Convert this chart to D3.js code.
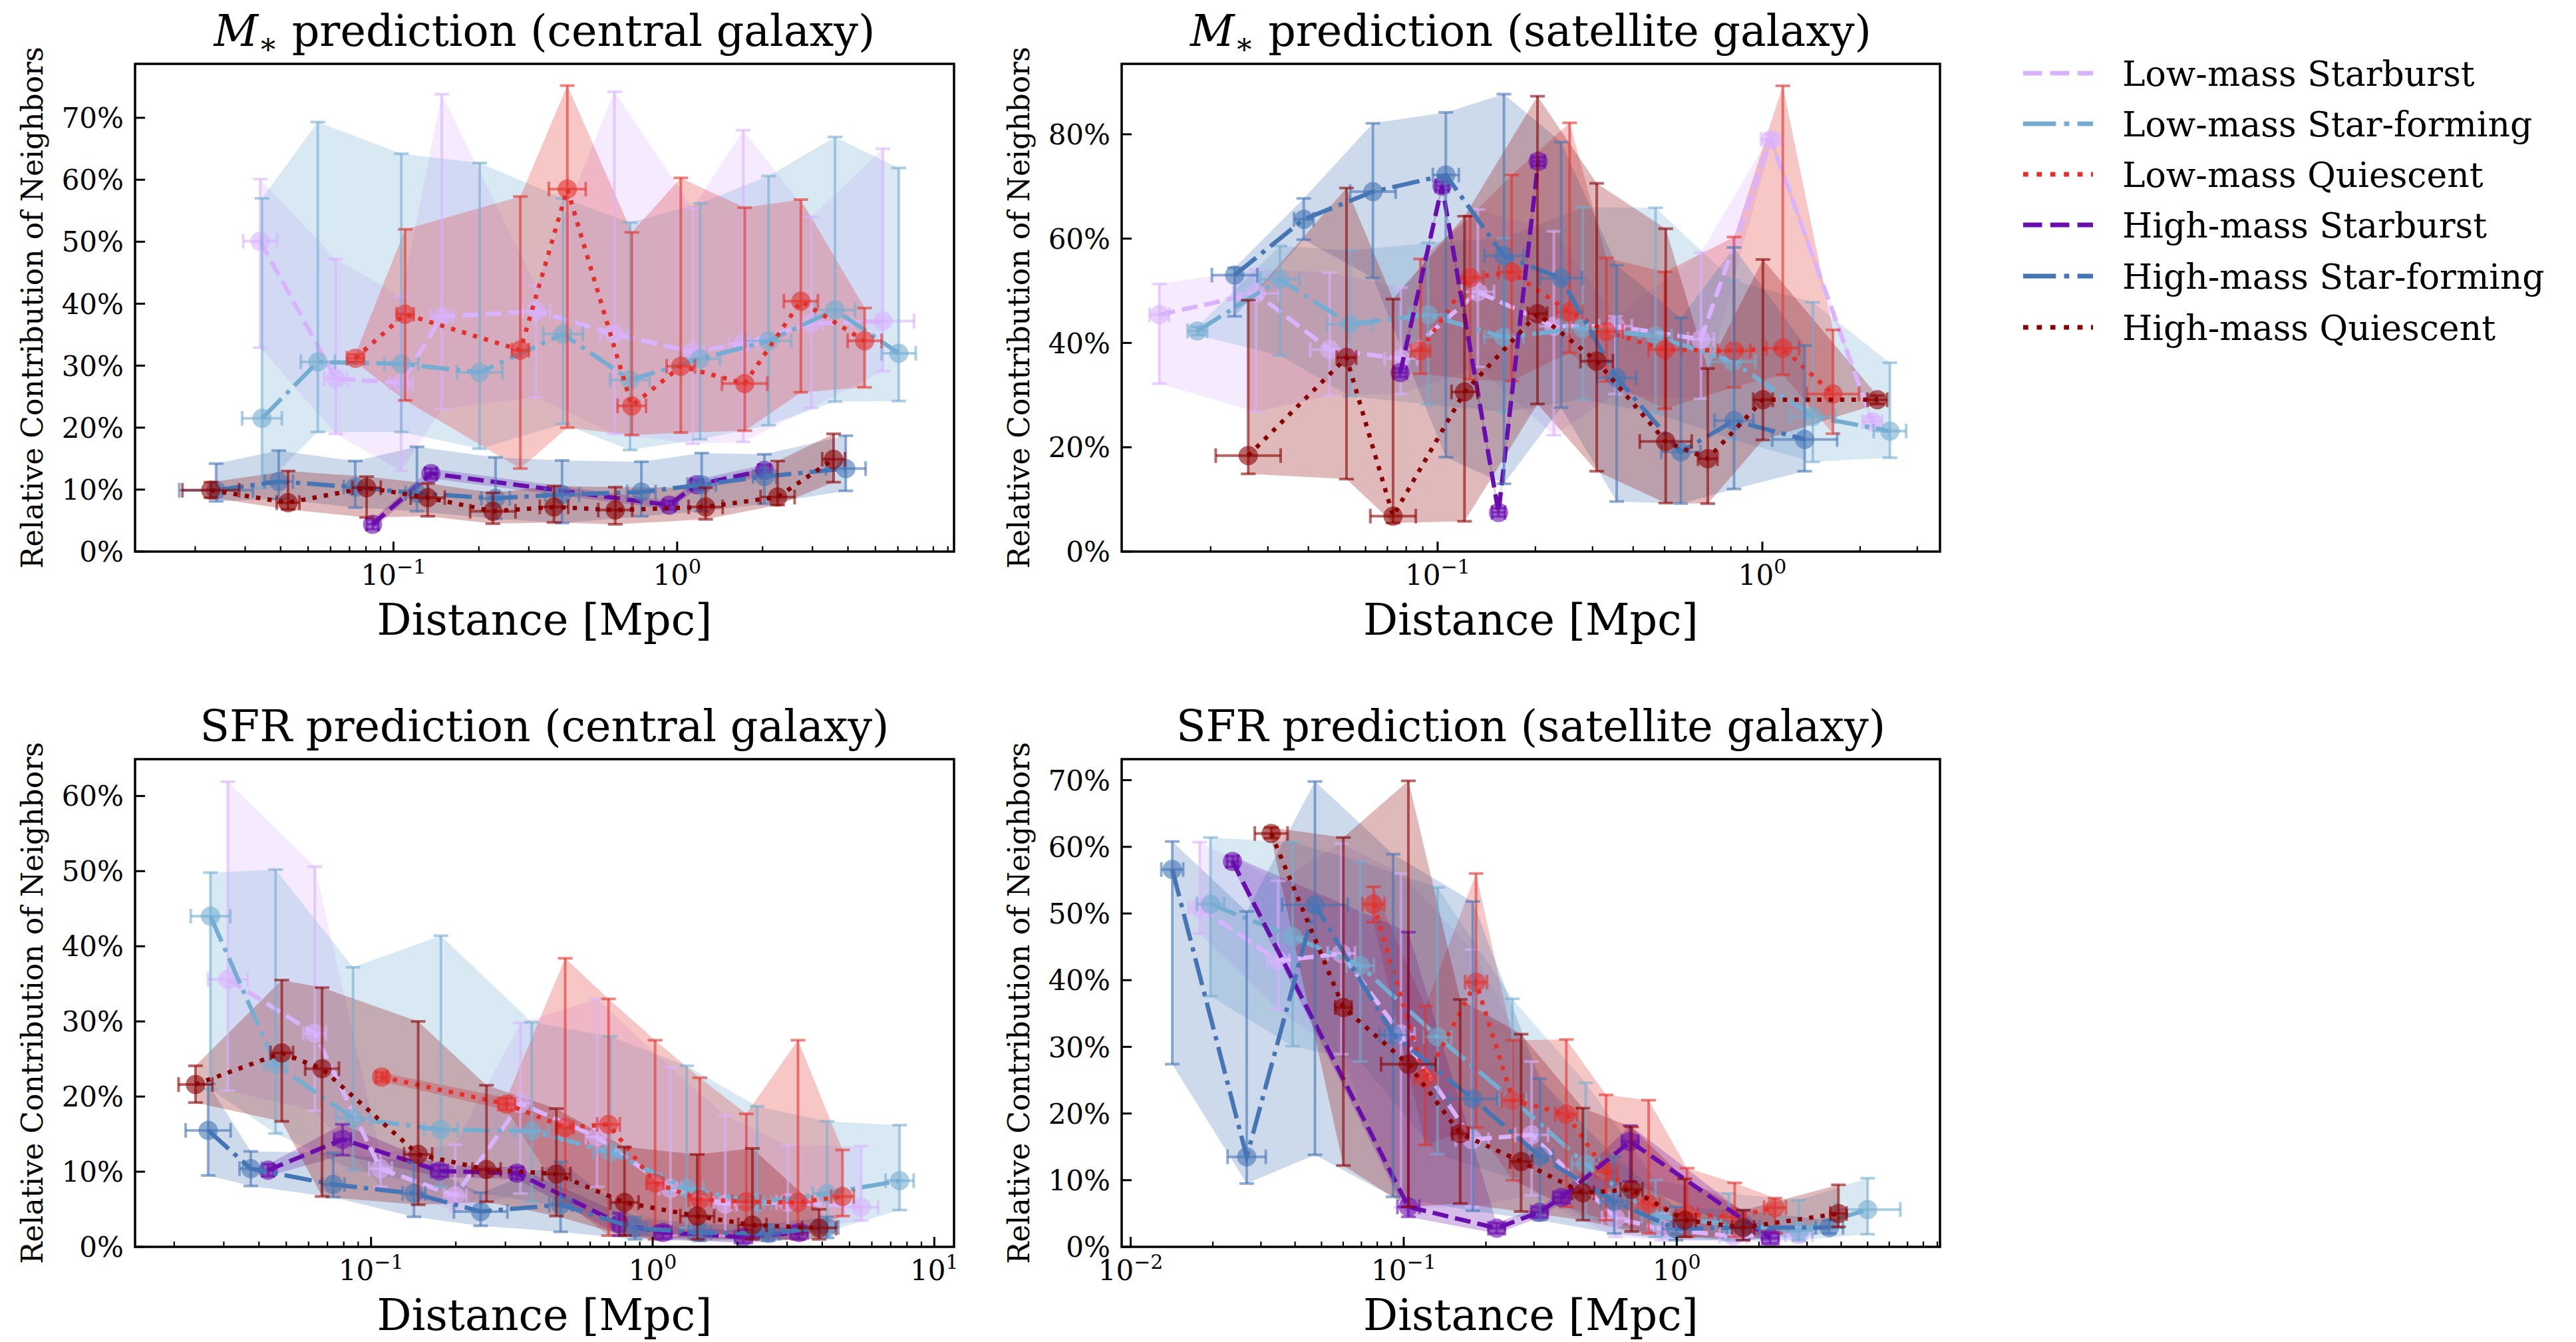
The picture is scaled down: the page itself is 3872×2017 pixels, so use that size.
<!DOCTYPE html>
<html>
<head>
<meta charset="utf-8">
<script src="https://cdn.jsdelivr.net/npm/d3@7"></script>
<style>
  html, body { margin: 0; padding: 0; background: #ffffff; }
  svg { display: block; font-family: "DejaVu Serif", "Liberation Serif", serif; }
</style>
</head>
<body>
<svg id="fig" width="3872" height="2017"></svg>
<script>
// ---------------------------------------------------------------
// Data: each row is [distance (Mpc), contribution (%), lower (%), upper (%), x half-width (dex)]
// ---------------------------------------------------------------
const seriesNames = ["Low-mass Starburst", "Low-mass Star-forming", "Low-mass Quiescent",
                     "High-mass Starburst", "High-mass Star-forming", "High-mass Quiescent"];

const panelTitles = ["M* prediction (central galaxy)", "M* prediction (satellite galaxy)",
                     "SFR prediction (central galaxy)", "SFR prediction (satellite galaxy)"];

// M* prediction, central galaxy
const mcLowSB = [[0.0339,50.1,32.9,60.1,0.06],[0.0626,27.9,19.0,47.2,0.04],[0.1064,27.2,13.0,41.2,0.04],[0.148,37.9,23.0,73.8,0.04],[0.318,38.8,24.9,42.9,0.05],[0.601,35.1,19.0,74.2,0.05],[1.135,32.2,17.4,55.4,0.04],[1.71,33.6,17.7,68.0,0.05],[2.97,36.8,23.2,54.0,0.04],[5.31,37.2,29.1,65.0,0.11]];
const mcLowSF = [[0.0344,21.5,10.3,57.0,0.07],[0.0541,30.6,19.3,69.3,0.06],[0.1066,30.3,19.3,64.2,0.06],[0.2013,28.9,16.6,62.7,0.08],[0.396,35.1,20.6,57.0,0.07],[0.682,27.7,16.4,53.1,0.07],[1.205,31.1,18.1,56.2,0.07],[2.10,34.0,20.4,60.6,0.08],[3.60,39.0,24.2,66.9,0.07],[6.04,32.0,24.3,61.9,0.06]];
const mcLowQ  = [[0.0734,31.2,30.6,31.8,0.03],[0.1099,38.3,24.4,52.0,0.03],[0.280,32.5,13.4,57.3,0.03],[0.410,58.5,20.0,75.2,0.065],[0.692,23.5,18.8,51.5,0.05],[1.03,29.9,19.2,60.3,0.05],[1.73,27.1,19.5,55.5,0.08],[2.73,40.4,25.7,56.8,0.06],[4.58,34.0,26.5,39.3,0.06]];
const mcHighSB = [[0.0844,4.4,3.6,5.2,0.02],[0.1355,12.6,11.8,13.4,0.02],[0.938,7.5,6.8,8.2,0.02],[1.17,10.8,10.0,11.6,0.02],[2.03,13.1,12.2,14.0,0.02]];
const mcHighSF = [[0.0237,9.9,8.1,14.2,0.13],[0.0394,11.3,8.5,16.3,0.05],[0.0733,10.4,7.1,14.6,0.04],[0.121,9.4,6.5,16.9,0.04],[0.229,8.6,5.3,15.2,0.05],[0.393,9.2,4.6,14.7,0.06],[0.748,9.6,5.7,14.5,0.05],[1.22,10.8,6.5,15.9,0.05],[2.03,12.1,7.7,15.7,0.04],[3.93,13.4,9.8,18.7,0.07]];
const mcHighQ  = [[0.0227,9.9,8.7,11.2,0.10],[0.0425,7.9,6.8,13.0,0.04],[0.0804,10.3,5.5,12.1,0.05],[0.132,8.7,5.7,11.0,0.06],[0.224,6.5,4.5,9.5,0.08],[0.368,7.2,4.7,10.6,0.05],[0.605,6.7,4.4,10.4,0.06],[1.26,7.2,5.2,10.3,0.06],[2.26,8.8,7.5,14.6,0.06],[3.56,14.9,11.2,19.0,0.04]];

// M* prediction, satellite galaxy
const msLowSB = [[0.0139,45.4,32.2,51.3,0.03],[0.0276,49.5,26.8,54.1,0.07],[0.0465,38.7,29.9,53.5,0.06],[0.0770,37.0,30.2,50.6,0.05],[0.133,49.8,35.4,65.6,0.05],[0.228,43.2,22.3,61.4,0.05],[0.353,43.2,30.2,45.1,0.05],[0.647,40.7,29.3,57.3,0.04],[1.062,79.0,78.0,80.0,0.03],[2.18,24.9,24.0,25.8,0.03]];
const msLowSF = [[0.0182,42.3,41.5,43.1,0.03],[0.0327,52.2,37.6,58.6,0.06],[0.0537,43.6,29.8,57.7,0.07],[0.0935,45.4,28.2,59.2,0.06],[0.160,41.1,26.8,60.1,0.06],[0.280,42.8,29.1,66.0,0.05],[0.469,41.3,26.5,65.9,0.05],[0.811,36.4,21.5,52.0,0.07],[1.43,25.9,17.2,47.8,0.07],[2.47,23.1,18.0,36.2,0.05]];
const msLowQ  = [[0.0885,38.5,34.1,56.1,0.03],[0.126,52.5,33.0,64.3,0.04],[0.169,53.6,32.7,72.2,0.04],[0.255,45.9,38.1,82.2,0.04],[0.331,42.2,32.6,56.3,0.05],[0.501,38.7,27.4,53.6,0.05],[0.818,38.5,31.5,60.3,0.05],[1.156,39.0,33.9,89.3,0.05],[1.65,30.2,22.6,42.5,0.08]];
const msHighSB = [[0.0767,34.3,33.5,35.1,0.02],[0.1032,70.1,69.3,70.9,0.02],[0.154,7.5,6.7,8.3,0.02],[0.204,74.8,74.0,75.6,0.02]];
const msHighSF = [[0.0237,53.0,45.1,54.4,0.07],[0.0387,63.7,59.8,67.7,0.03],[0.0632,69.0,52.5,82.1,0.07],[0.106,72.2,18.1,84.2,0.04],[0.160,56.7,13.0,87.7,0.06],[0.240,52.4,27.6,78.5,0.065],[0.356,33.3,9.6,54.9,0.06],[0.561,19.1,9.2,44.8,0.06],[0.818,25.1,12.0,58.3,0.06],[1.35,21.5,15.4,39.5,0.10]];
const msHighQ  = [[0.0261,18.4,14.9,48.2,0.10],[0.0524,37.2,13.9,69.7,0.03],[0.0729,6.8,5.5,48.4,0.07],[0.121,30.6,5.8,64.3,0.04],[0.203,45.6,28.3,87.3,0.03],[0.309,36.5,15.4,70.6,0.05],[0.504,21.1,9.3,61.9,0.08],[0.679,17.8,9.2,35.1,0.03],[1.004,29.1,21.4,56.0,0.03],[2.26,29.1,28.3,29.9,0.03]];

// SFR prediction, central galaxy
const scLowSB = [[0.0310,35.6,20.8,61.9,0.07],[0.0631,28.4,18.1,50.6,0.04],[0.108,10.4,8.0,12.5,0.04],[0.199,6.8,4.8,13.6,0.04],[0.339,19.1,7.1,29.8,0.04],[0.635,14.6,8.0,33.0,0.04],[1.156,7.8,1.5,23.9,0.04],[1.81,5.7,1.5,17.5,0.04],[3.02,5.9,2.0,13.5,0.04],[5.50,5.3,3.5,13.4,0.06]];
const scLowSF = [[0.0269,44.0,21.0,49.8,0.07],[0.0458,24.3,15.1,50.2,0.04],[0.0863,17.1,10.2,37.2,0.06],[0.177,15.6,8.0,41.4,0.06],[0.372,15.4,6.0,29.9,0.06],[0.707,12.6,4.0,28.0,0.06],[1.32,7.8,2.5,24.1,0.06],[2.35,5.9,1.5,18.7,0.05],[4.16,7.1,2.0,16.7,0.05],[7.53,8.8,4.9,16.2,0.05]];
const scLowQ  = [[0.109,22.6,22.0,23.2,0.02],[0.303,19.0,18.2,19.8,0.03],[0.489,15.9,6.0,38.4,0.03],[0.697,16.3,1.5,33.0,0.04],[1.02,8.5,1.0,27.5,0.03],[1.47,6.3,1.5,22.5,0.04],[2.15,6.0,1.0,17.7,0.05],[3.28,5.9,1.0,27.5,0.05],[4.72,6.7,4.1,12.9,0.04]];
const scHighSB = [[0.0431,10.2,9.4,11.0,0.02],[0.0792,14.3,12.2,16.3,0.03],[0.175,10.1,9.3,10.9,0.03],[0.330,9.8,9.0,10.6,0.02],[0.762,3.1,1.5,4.5,0.02],[1.087,1.9,1.0,2.8,0.03],[2.10,1.3,0.5,2.1,0.03],[3.31,1.9,1.0,2.8,0.03]];
const scHighSF = [[0.0264,15.5,9.5,21.7,0.08],[0.0374,10.4,8.1,12.7,0.04],[0.0734,8.3,6.6,12.5,0.04],[0.142,7.1,4.0,11.3,0.04],[0.245,4.7,2.8,7.2,0.095],[0.471,5.6,2.0,11.3,0.04],[0.865,2.5,1.0,4.0,0.04],[1.47,1.9,0.8,3.0,0.04],[2.57,1.8,0.8,3.0,0.04],[4.16,2.6,1.2,4.0,0.04]];
const scHighQ  = [[0.0238,21.6,19.2,24.1,0.06],[0.0482,25.8,16.7,35.5,0.04],[0.0670,23.7,6.7,34.5,0.06],[0.147,12.3,5.6,30.0,0.05],[0.257,10.3,6.0,21.5,0.05],[0.455,9.7,4.1,18.4,0.05],[0.794,5.9,1.5,13.3,0.05],[1.44,4.1,1.0,12.3,0.06],[2.26,2.9,1.0,13.1,0.05],[3.90,2.5,1.0,5.0,0.06]];

// SFR prediction, satellite galaxy
const ssLowSB = [[0.0179,50.9,47.0,60.7,0.04],[0.0347,42.9,35.6,54.9,0.04],[0.0591,44.0,28.9,60.5,0.05],[0.0977,31.9,5.9,56.0,0.05],[0.178,16.1,6.0,44.6,0.06],[0.294,16.8,7.7,27.8,0.06],[0.597,4.3,1.5,8.0,0.05],[0.883,2.7,1.0,5.0,0.05],[1.61,1.6,0.8,3.0,0.05],[2.80,1.8,0.8,3.0,0.05]];
const ssLowSF = [[0.0196,51.4,37.6,61.4,0.05],[0.0392,46.5,30.1,60.7,0.05],[0.0693,42.2,27.8,57.8,0.05],[0.133,31.5,13.9,53.9,0.05],[0.250,22.1,10.2,37.2,0.05],[0.464,12.4,4.3,24.6,0.05],[0.836,4.6,1.5,10.0,0.05],[1.55,3.4,1.0,8.0,0.05],[2.80,2.4,1.0,7.0,0.05],[5.00,5.6,1.9,10.3,0.12]];
const ssLowQ  = [[0.0775,51.4,48.7,54.0,0.04],[0.120,25.3,15.3,36.1,0.04],[0.184,39.7,17.9,56.0,0.04],[0.251,22.0,10.0,31.0,0.04],[0.394,19.9,6.0,31.1,0.04],[0.551,11.3,4.0,22.8,0.04],[0.789,6.4,2.0,22.0,0.04],[1.09,4.9,1.5,11.8,0.04],[1.63,4.5,1.5,9.6,0.04],[2.29,5.9,2.0,7.3,0.04]];
const ssHighSB = [[0.0236,57.8,57.0,58.6,0.02],[0.104,6.0,4.5,47.2,0.04],[0.219,2.8,2.0,3.6,0.03],[0.314,5.2,4.4,6.0,0.03],[0.378,7.4,6.6,8.2,0.03],[0.675,15.8,9.8,18.2,0.03],[2.20,1.3,0.5,2.1,0.03]];
const ssHighSF = [[0.0142,56.6,27.4,60.8,0.04],[0.0266,13.5,9.5,50.3,0.07],[0.0473,51.3,13.8,69.8,0.12],[0.0914,31.8,7.5,58.9,0.05],[0.179,22.2,5.4,51.8,0.09],[0.315,13.6,4.0,25.2,0.05],[0.590,6.8,2.0,13.5,0.05],[0.993,2.7,1.0,6.0,0.05],[1.75,2.9,1.0,5.5,0.06],[3.62,2.9,2.0,4.0,0.05]];
const ssHighQ  = [[0.0327,62.0,61.3,62.9,0.06],[0.0601,35.9,12.2,61.4,0.03],[0.104,27.4,6.0,69.9,0.10],[0.161,17.0,6.5,37.1,0.03],[0.269,12.8,5.3,31.9,0.04],[0.453,8.1,4.0,20.8,0.04],[0.683,8.6,2.3,18.0,0.04],[1.07,4.0,1.5,10.2,0.04],[1.75,2.9,1.0,5.5,0.04],[3.91,5.0,3.0,9.3,0.03]];

// Axis limits (x in log10 Mpc, y in %) and tick values
const xLimitsLog = [[-1.911, 0.976], [-1.973, 0.547], [-1.838, 1.070], [-2.033, 0.964]];
const yLimits    = [[0, 78.7], [0, 93.5], [0, 64.9], [0, 73.15]];
const yTicks     = [[0,10,20,30,40,50,60,70], [0,20,40,60,80], [0,10,20,30,40,50,60], [0,10,20,30,40,50,60,70]];
const xTickExps  = [[-1, 0], [-1, 0], [-1, 0, 1], [-2, -1, 0]];
const xLabel = "Distance [Mpc]";
const yLabel = "Relative Contribution of Neighbors";

// ---------------------------------------------------------------
// Styling
// ---------------------------------------------------------------
const colors = ["#d9b3ff", "#74add1", "#e3302b", "#6a0dad", "#4575b4", "#8b0000"];
const LW = 6.5;
const dashFor = {
  dashed:  [3.7, 1.6],
  dashdot: [6.4, 1.6, 1.0, 1.6],
  dotted:  [1.0, 1.65]
};
const styleKeys = ["dashed", "dashdot", "dotted", "dashed", "dashdot", "dotted"];
const dashArray = (key, lw) => dashFor[key].map(v => (v * lw).toFixed(2)).join(" ");

const panelSeries = [
  [mcLowSB, mcLowSF, mcLowQ, mcHighSB, mcHighSF, mcHighQ],
  [msLowSB, msLowSF, msLowQ, msHighSB, msHighSF, msHighQ],
  [scLowSB, scLowSF, scLowQ, scHighSB, scHighSF, scHighQ],
  [ssLowSB, ssLowSF, ssLowQ, ssHighSB, ssHighSF, ssHighQ]
];

// axes boxes [left, top, width, height] in px
const boxes = [[203, 96, 1231, 733], [1686, 96, 1230, 733], [203, 1141, 1231, 733], [1686, 1141, 1230, 733]];

const svg = d3.select("#fig");
svg.append("rect").attr("width", 3872).attr("height", 2017).attr("fill", "#ffffff");

const FONT_TICK = 42, FONT_TITLE = 65, FONT_XLAB = 65, FONT_YLAB = 44, FONT_LEG = 52;

boxes.forEach((b, pi) => {
  const [bx, by, bw, bh] = b;
  const x = d3.scaleLog()
    .domain([Math.pow(10, xLimitsLog[pi][0]), Math.pow(10, xLimitsLog[pi][1])])
    .range([bx, bx + bw]);
  const y = d3.scaleLinear().domain(yLimits[pi]).range([by + bh, by]);

  const g = svg.append("g");
  const clipId = "clip" + pi;
  g.append("clipPath").attr("id", clipId)
    .append("rect").attr("x", bx).attr("y", by).attr("width", bw).attr("height", bh);
  const plot = g.append("g").attr("clip-path", `url(#${clipId})`);

  const series = panelSeries[pi];

  // shaded uncertainty bands
  const area = d3.area().x(d => x(d[0])).y0(d => y(d[2])).y1(d => y(d[3]));
  series.forEach((data, si) => {
    plot.append("path").datum(data)
      .attr("d", area)
      .attr("fill", colors[si])
      .attr("fill-opacity", 0.27)
      .attr("stroke", "none");
  });

  // error bars, markers and connecting lines
  const line = d3.line().x(d => x(d[0])).y(d => y(d[1]));
  const CAP = 11;
  series.forEach((data, si) => {
    const c = colors[si];
    const eb = plot.append("g")
      .attr("stroke", c).attr("stroke-width", 4).attr("stroke-opacity", 0.6).attr("fill", "none");
    data.forEach(d => {
      const px = x(d[0]), py = y(d[1]), ylo = y(d[2]), yhi = y(d[3]);
      const xl = x(d[0] / Math.pow(10, d[4])), xr = x(d[0] * Math.pow(10, d[4]));
      eb.append("line").attr("x1", px).attr("x2", px).attr("y1", ylo).attr("y2", yhi);
      eb.append("line").attr("x1", px - CAP).attr("x2", px + CAP).attr("y1", ylo).attr("y2", ylo);
      eb.append("line").attr("x1", px - CAP).attr("x2", px + CAP).attr("y1", yhi).attr("y2", yhi);
      eb.append("line").attr("x1", xl).attr("x2", xr).attr("y1", py).attr("y2", py);
      eb.append("line").attr("x1", xl).attr("x2", xl).attr("y1", py - CAP).attr("y2", py + CAP);
      eb.append("line").attr("x1", xr).attr("x2", xr).attr("y1", py - CAP).attr("y2", py + CAP);
    });
    plot.append("g").selectAll("circle").data(data).join("circle")
      .attr("cx", d => x(d[0])).attr("cy", d => y(d[1])).attr("r", 14.5)
      .attr("fill", c).attr("fill-opacity", 0.6);
    plot.append("path").datum(data)
      .attr("d", line)
      .attr("fill", "none")
      .attr("stroke", c)
      .attr("stroke-width", LW)
      .attr("stroke-dasharray", dashArray(styleKeys[si], LW))
      .attr("stroke-linecap", "butt");
  });

  // axes frame
  g.append("rect").attr("x", bx).attr("y", by).attr("width", bw).attr("height", bh)
    .attr("fill", "none").attr("stroke", "#000").attr("stroke-width", 3.5);

  // y ticks (inward) and labels
  yTicks[pi].forEach(v => {
    const ty = y(v);
    g.append("line").attr("x1", bx).attr("x2", bx + 15).attr("y1", ty).attr("y2", ty)
      .attr("stroke", "#000").attr("stroke-width", 3);
    g.append("text").attr("x", bx - 17).attr("y", ty).attr("dy", "0.36em")
      .attr("text-anchor", "end").attr("font-size", FONT_TICK).text(v + "%");
  });

  // x ticks: major at decades, minor at 2..9
  const [lo, hi] = xLimitsLog[pi];
  for (let e = Math.floor(lo); e <= Math.ceil(hi); e++) {
    for (let k = 1; k <= 9; k++) {
      const v = k * Math.pow(10, e);
      const lv = Math.log10(v);
      if (lv < lo || lv > hi) continue;
      const tx = x(v);
      const len = k === 1 ? 15 : 8;
      g.append("line").attr("x1", tx).attr("x2", tx).attr("y1", by + bh).attr("y2", by + bh - len)
        .attr("stroke", "#000").attr("stroke-width", k === 1 ? 3 : 2.2);
    }
  }
  xTickExps[pi].forEach(e => {
    const t = g.append("text").attr("x", x(Math.pow(10, e))).attr("y", by + bh + 50)
      .attr("text-anchor", "middle").attr("font-size", FONT_TICK);
    t.append("tspan").text("10");
    t.append("tspan").attr("dy", -17).attr("font-size", 30).text(String(e).replace("-", "\u2212"));
  });

  // title
  const title = g.append("text").attr("x", bx + bw / 2).attr("y", by - 27)
    .attr("text-anchor", "middle").attr("font-size", FONT_TITLE);
  const tt = panelTitles[pi];
  if (tt.startsWith("M*")) {
    title.append("tspan").attr("font-style", "italic").text("M");
    title.append("tspan").attr("dy", 12).attr("font-size", 44).text("\u2217");
    title.append("tspan").attr("dy", -12).text(tt.slice(2));
  } else {
    title.text(tt);
  }

  // axis labels
  g.append("text").attr("x", bx + bw / 2).attr("y", by + bh + 125)
    .attr("text-anchor", "middle").attr("font-size", FONT_XLAB).text(xLabel);
  g.append("text")
    .attr("transform", `translate(${bx - 139},${by + bh / 2}) rotate(-90)`)
    .attr("text-anchor", "middle").attr("font-size", FONT_YLAB).text(yLabel);
});

// legend
const legRows = [110, 186, 262, 338, 415, 492];
const leg = svg.append("g");
seriesNames.forEach((name, i) => {
  const ly = legRows[i];
  leg.append("line").attr("x1", 3041).attr("x2", 3146).attr("y1", ly).attr("y2", ly)
    .attr("stroke", colors[i]).attr("stroke-width", 7)
    .attr("stroke-dasharray", dashArray(styleKeys[i], 7.7));
  leg.append("text").attr("x", 3190).attr("y", ly).attr("dy", "0.36em")
    .attr("font-size", FONT_LEG).text(name);
});
</script>
</body>
</html>
